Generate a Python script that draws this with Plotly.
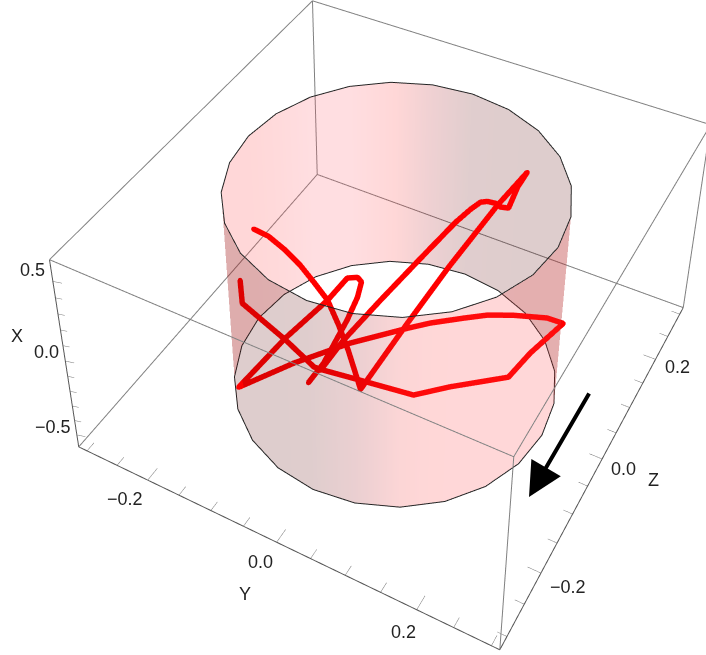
import numpy as np
import plotly.graph_objects as go

# box limits of the reference frame
Y_LIM = [-0.314, 0.311]
Z_LIM = [-0.32, 0.315]
X_LIM = [-0.585, 0.63]
BOX_RATIO = [1.0, 1.0287, 0.55226]
PAD = [0.02, 0.02, 0.08]

X_TICKS = [-0.5, -0.4, -0.3, -0.2, -0.1, 0.0, 0.1, 0.2, 0.3, 0.4, 0.5]
Y_TICKS = [-0.3, -0.25, -0.2, -0.15, -0.1, -0.05, 0.0, 0.05, 0.1, 0.15, 0.2, 0.25, 0.3]
Z_TICKS = [-0.3, -0.25, -0.2, -0.15, -0.1, -0.05, 0.0, 0.05, 0.1, 0.15, 0.2, 0.25, 0.3]
X_MAJOR = [-0.5, 0.0, 0.5]
Y_MAJOR = [-0.2, 0.0, 0.2]
Z_MAJOR = [-0.2, 0.0, 0.2]

# cylinder
CYL_Y, CYL_Z, CYL_R = -0.0084, 0.0122, 0.2282
CYL_TOP, CYL_BOTTOM = 0.579, -0.6461
FRONT_ANGLES = [210, 225, 240, 255, 270, 285, 300, 315, 330, 345, 360, 375]
FRONT_SHADE = [0, 0, 0, 0, 0.03, 0.25, 0.6, 0.68, 0.68, 0.68, 0.68, 0.68]
BACK_ANGLES = [15, 30, 45, 60, 75, 90, 105, 120, 135, 150, 165, 180, 195, 210]
BACK_SHADE = [0, 0, 0, 0, 0.02, 0.05, 0.35, 0.7, 1, 1, 0.8, 0.68, 0.68, 0.68]

# red curve, two pieces
S1_Y = [-0.188,-0.168,-0.143,-0.12,-0.098,-0.075,-0.053,-0.033,-0.004,0.027,0.055,0.09,0.113,0.107,0.104,0.094,0.087,0.077,0.069,0.06,0.047,0.019,-0.013,-0.042,-0.058]
S1_Z = [-0.059,-0.054,-0.052,-0.052,-0.054,-0.057,-0.066,-0.076,-0.094,-0.019,0.046,0.119,0.161,0.145,0.125,0.12,0.119,0.115,0.11,0.099,0.08,0.033,-0.022,-0.073,-0.108]
S1_X = [0.258,0.229,0.173,0.112,0.044,-0.028,-0.128,-0.227,-0.382,-0.126,0.091,0.332,0.459,0.401,0.319,0.324,0.34,0.348,0.345,0.318,0.268,0.129,-0.033,-0.188,-0.304]
S2_Y = [-0.185,-0.174,-0.11,-0.067,-0.055,-0.008,0.06,0.1,0.165,0.182,0.21,0.189,0.148,0.118,0.091,0.054,0.029,-0.033,-0.092,-0.148,-0.111,-0.075,-0.06,-0.048,-0.042,-0.041,-0.045,-0.057,-0.068]
S2_Z = [-0.102,-0.116,-0.111,-0.11,-0.106,-0.088,-0.062,-0.032,0.013,0.044,0.085,0.078,0.057,0.04,0.022,-0.003,-0.022,-0.07,-0.121,-0.174,-0.11,-0.057,-0.029,-0.022,-0.022,-0.035,-0.057,-0.101,-0.124]
S2_X = [0.058,-0.033,-0.183,-0.291,-0.304,-0.347,-0.411,-0.382,-0.348,-0.255,-0.14,-0.118,-0.104,-0.101,-0.111,-0.128,-0.146,-0.2,-0.274,-0.364,-0.175,-0.028,0.057,0.06,0.04,-0.019,-0.109,-0.277,-0.354]

# camera found by fitting the box corners. The figure is bigger than the window
# and shifted, since plotly has a fixed view angle centred on the scene
FIG_W, FIG_H = 764, 1325
FIG_LEFT, FIG_TOP = -57, -668
EYE = [1.1631, -2.2327, 2.4702]
FWD = [-0.4219, 0.71221, -0.56104]
UP = [-0.267, 0.49377, 0.82759]

FONT = dict(family="Liberation Sans, Arial, sans-serif", size=18, color="#222222")


def wall(angles, shade):
    th = np.radians(angles)
    n = len(th)
    ys = CYL_Y + CYL_R * np.cos(th)
    zs = CYL_Z + CYL_R * np.sin(th)
    i, j, k = [], [], []
    for a in range(n - 1):
        i += [a, a + 1]
        j += [a + 1, a + 1 + n]
        k += [a + n, a + n]
    return go.Mesh3d(
        x=np.r_[ys, ys],
        y=np.r_[zs, zs],
        z=np.r_[[CYL_TOP] * n, [CYL_BOTTOM] * n],
        i=i, j=j, k=k,
        intensity=shade + shade,
        cmin=0, cmax=1,
        colorscale=[[0, "rgb(90,5,5)"], [0.33, "rgb(170,20,30)"], [0.66, "rgb(255,55,55)"], [1, "rgb(255,90,105)"]],
        showscale=False,
        opacity=0.2,
        lighting=dict(ambient=1, diffuse=0, specular=0, fresnel=0, roughness=1),
        hoverinfo="skip",
    )


def segments(segs, color, width):
    xs, ys, zs = [], [], []
    for a, b in segs:
        xs += [a[0], b[0], None]
        ys += [a[1], b[1], None]
        zs += [a[2], b[2], None]
    return go.Scatter3d(x=xs, y=ys, z=zs, mode="lines", line=dict(color=color, width=width), hoverinfo="skip")


def curve(ys, zs, xs):
    # small markers only close the gaps at the joins
    return go.Scatter3d(
        x=ys, y=zs, z=xs, mode="lines+markers",
        line=dict(color="#ff0000", width=11),
        marker=dict(color="#ff0000", size=2.8, line=dict(width=0)),
        hoverinfo="skip",
    )


y0, y1 = Y_LIM
z0, z1 = Z_LIM
x0, x1 = X_LIM

fig = go.Figure()

# frame: the three edges that carry ticks are a bit darker
axis_edges = [((y0, z0, x0), (y0, z0, x1)), ((y0, z0, x0), (y1, z0, x0)), ((y1, z0, x0), (y1, z1, x0))]
other_edges = [
    ((y0, z0, x1), (y1, z0, x1)), ((y1, z0, x1), (y1, z1, x1)), ((y1, z1, x1), (y0, z1, x1)), ((y0, z1, x1), (y0, z0, x1)),
    ((y1, z0, x0), (y1, z0, x1)), ((y1, z1, x0), (y1, z1, x1)), ((y0, z1, x0), (y0, z1, x1)),
    ((y0, z0, x0), (y0, z1, x0)), ((y0, z1, x0), (y1, z1, x0)),
]
fig.add_trace(segments(axis_edges, "#555555", 2))
fig.add_trace(segments(other_edges, "#808080", 2))

# tick marks point into the box
ticks = []
for v in X_TICKS:
    ln = 1.0 if v in X_MAJOR else 0.75
    ticks.append(((y0, z0, v), (y0 + 0.012 * ln, z0 + 0.003 * ln, v)))
for v in Y_TICKS:
    ln = 1.0 if v in Y_MAJOR else 0.7
    ticks.append(((v, z0, x0), (v, z0 + 0.022 * ln, x0)))
for v in Z_TICKS:
    ln = 1.0 if v in Z_MAJOR else 0.7
    ticks.append(((y1, v, x0), (y1 - 0.018 * ln, v, x0)))
fig.add_trace(segments(ticks, "#777777", 1))

fig.add_trace(curve(S1_Y, S1_Z, S1_X))
fig.add_trace(curve(S2_Y, S2_Z, S2_X))

fig.add_trace(wall(BACK_ANGLES, BACK_SHADE))
fig.add_trace(wall(FRONT_ANGLES, FRONT_SHADE))

# polygon outline of both rims
rim_th = np.radians(np.arange(0, 361, 15))
for level in (CYL_TOP, CYL_BOTTOM):
    fig.add_trace(go.Scatter3d(
        x=CYL_Y + CYL_R * np.cos(rim_th),
        y=CYL_Z + CYL_R * np.sin(rim_th),
        z=[level] * len(rim_th),
        mode="lines", line=dict(color="#222222", width=2), hoverinfo="skip",
    ))


def label(y, z, x, text, dx, dy):
    return dict(x=y, y=z, z=x, text=text, showarrow=False, xanchor="center", yanchor="middle",
                xshift=dx, yshift=-dy, font=FONT)


notes = [
    label(y0, z0, 0.5, "0.5", -20, -11), label(y0, z0, 0.0, "0.0", -19, -9), label(y0, z0, -0.5, "\u22120.5", -24, -8),
    label(y0, z0, 0.0, "X", -48, -25),
    label(-0.2, z0, x0, "\u22120.2", -23, 19), label(0.0, z0, x0, "0.0", -16, 20), label(0.2, z0, x0, "0.2", -13, 22),
    label(0.0, z0, x0, "Y", -32, 52),
    label(y1, -0.2, x0, "\u22120.2", 27, 14), label(y1, 0.0, x0, "0.0", 21, 10), label(y1, 0.2, x0, "0.2", 22, 8),
    label(y1, 0.0, x0, "Z", 51, 21),
]


def axis(lim, pad):
    return dict(range=[lim[0] - pad, lim[1] + pad], visible=False)


def ratio(k, lim):
    return BOX_RATIO[k] * (lim[1] - lim[0] + 2 * PAD[k]) / (lim[1] - lim[0])


fig.update_layout(
    width=FIG_W, height=FIG_H, autosize=False,
    margin=dict(l=0, r=0, t=0, b=0), paper_bgcolor="white", showlegend=False,
    scene=dict(
        xaxis=axis(Y_LIM, PAD[0]), yaxis=axis(Z_LIM, PAD[1]), zaxis=axis(X_LIM, PAD[2]),
        aspectmode="manual",
        aspectratio=dict(x=ratio(0, Y_LIM), y=ratio(1, Z_LIM), z=ratio(2, X_LIM)),
        camera=dict(
            eye=dict(x=EYE[0], y=EYE[1], z=EYE[2]),
            center=dict(x=EYE[0] + 3.5 * FWD[0], y=EYE[1] + 3.5 * FWD[1], z=EYE[2] + 3.5 * FWD[2]),
            up=dict(x=UP[0], y=UP[1], z=UP[2]),
            projection=dict(type="perspective"),
        ),
        annotations=notes,
    ),
    # black arrow beside the cylinder
    annotations=[dict(
        x=(529 - FIG_LEFT) / FIG_W, y=1 - (497 - FIG_TOP) / FIG_H, xref="paper", yref="paper",
        ax=61, ay=-105, text="", showarrow=True, arrowhead=2, arrowsize=1.7, arrowwidth=4, arrowcolor="black", standoff=0,
    )],
)

fig.write_html(
    "out.html",
    post_script=(
        "document.documentElement.style.overflow='hidden';document.body.style.overflow='hidden';document.body.style.margin='0';"
        "var gd=document.getElementById('{plot_id}');gd.style.position='absolute';"
        f"gd.style.left='{FIG_LEFT}px';gd.style.top='{FIG_TOP}px';"
    ),
)
